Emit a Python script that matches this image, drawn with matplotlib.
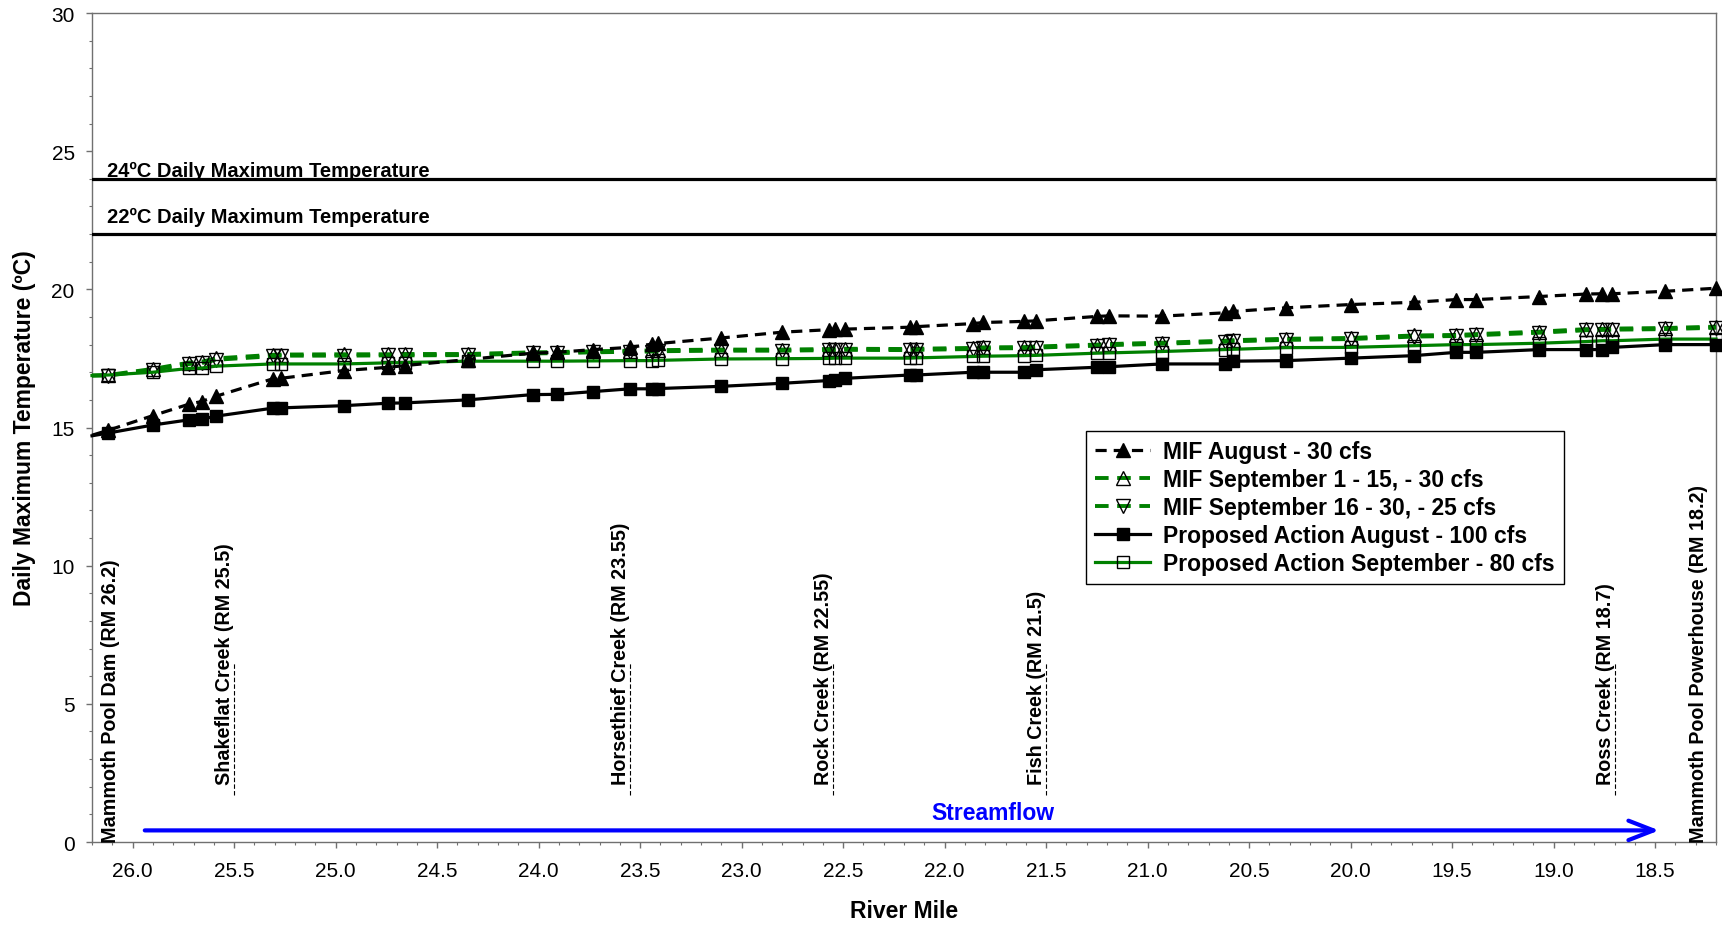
import numpy as np
import matplotlib
matplotlib.use("Agg")
import matplotlib.pyplot as plt
from matplotlib.ticker import MultipleLocator, FormatStrFormatter

plt.rcParams['font.family'] = ['Liberation Sans', 'DejaVu Sans']

# Datos (milla del rio vs temperatura maxima diaria)
river_mile = [26.2, 26.12, 25.9, 25.72, 25.66, 25.59, 25.31, 25.27, 24.96, 24.74,
              24.66, 24.35, 24.03, 23.91, 23.73, 23.55, 23.44, 23.41, 23.1, 22.8,
              22.57, 22.54, 22.49, 22.17, 22.14, 21.86, 21.81, 21.61, 21.55, 21.25,
              21.19, 20.93, 20.62, 20.58, 20.32, 20.0, 19.69, 19.48, 19.38, 19.07,
              18.84, 18.76, 18.71, 18.45, 18.2]

mif_aug = [14.72, 14.9, 15.43, 15.85, 15.94, 16.13, 16.76, 16.78, 17.06, 17.18,
           17.24, 17.46, 17.69, 17.72, 17.82, 17.9, 18.02, 18.04, 18.24, 18.45,
           18.54, 18.55, 18.56, 18.63, 18.65, 18.76, 18.8, 18.84, 18.86, 19.02,
           19.04, 19.03, 19.15, 19.2, 19.33, 19.45, 19.53, 19.63, 19.63, 19.74,
           19.83, 19.84, 19.84, 19.93, 20.04]

mif_sep_1_15 = [16.88, 16.9, 17.12, 17.35, 17.38, 17.5, 17.63, 17.64, 17.65, 17.65,
                17.66, 17.66, 17.72, 17.73, 17.76, 17.78, 17.79, 17.8, 17.82, 17.82,
                17.84, 17.84, 17.85, 17.84, 17.85, 17.88, 17.9, 17.91, 17.93, 18.0,
                18.02, 18.07, 18.14, 18.16, 18.21, 18.24, 18.33, 18.35, 18.38, 18.47,
                18.56, 18.57, 18.58, 18.6, 18.65]

mif_sep_16_30 = [16.88, 16.88, 17.08, 17.3, 17.33, 17.45, 17.58, 17.6, 17.6, 17.61,
                 17.61, 17.62, 17.68, 17.69, 17.72, 17.74, 17.75, 17.76, 17.78, 17.78,
                 17.8, 17.8, 17.81, 17.8, 17.81, 17.84, 17.86, 17.87, 17.89, 17.96,
                 17.98, 18.03, 18.1, 18.12, 18.17, 18.2, 18.29, 18.31, 18.34, 18.43,
                 18.52, 18.53, 18.54, 18.56, 18.61]

prop_aug = [14.7, 14.8, 15.09, 15.28, 15.3, 15.41, 15.7, 15.71, 15.79, 15.88,
            15.89, 16.0, 16.19, 16.2, 16.3, 16.4, 16.4, 16.41, 16.49, 16.6,
            16.7, 16.72, 16.78, 16.9, 16.9, 17.0, 17.0, 17.0, 17.09, 17.18,
            17.2, 17.3, 17.3, 17.4, 17.42, 17.51, 17.6, 17.72, 17.72, 17.82,
            17.82, 17.82, 17.9, 18.0, 18.0]

prop_sep = [16.88, 16.9, 17.0, 17.14, 17.15, 17.22, 17.3, 17.3, 17.3, 17.34,
            17.35, 17.4, 17.4, 17.4, 17.41, 17.42, 17.42, 17.43, 17.48, 17.49,
            17.5, 17.51, 17.51, 17.51, 17.52, 17.57, 17.58, 17.6, 17.61, 17.69,
            17.7, 17.75, 17.82, 17.83, 17.89, 17.9, 17.96, 18.0, 18.0, 18.05,
            18.11, 18.14, 18.14, 18.2, 18.2]

# Sitios de referencia
site_names = ["Mammoth Pool Dam (RM 26.2)", "Shakeflat Creek (RM 25.5)",
              "Horsethief Creek (RM 23.55)", "Rock Creek (RM 22.55)",
              "Fish Creek (RM 21.5)", "Ross Creek (RM 18.7)",
              "Mammoth Pool Powerhouse (RM 18.2)"]
site_rm = [26.2, 25.5, 23.55, 22.55, 21.5, 18.7, 18.2]

# Limites de temperatura
limit_temps = [24, 22]
limit_labels = ["24ºC Daily Maximum Temperature", "22ºC Daily Maximum Temperature"]

fig = plt.figure(figsize=(17.22, 9.29), dpi=100)
ax = fig.add_axes([0.05343, 0.09257, 0.9431, 0.89236])

green = '#008000'
dash = (3.5, 2.2)
mk = slice(1, None)  # el primer punto queda en el borde, sin marcador

ax.plot(river_mile, mif_aug, color='black', lw=2.3, dashes=dash, marker='^', ms=9.5,
        mfc='black', mec='black', markevery=mk, clip_on=False, zorder=5,
        label="MIF August - 30 cfs")
ax.plot(river_mile, mif_sep_1_15, color=green, lw=2.8, dashes=dash, marker='^', ms=9.5,
        mfc='none', mec='black', mew=1.0, markevery=mk, clip_on=False, zorder=4,
        label="MIF September 1 - 15, - 30 cfs")
ax.plot(river_mile, mif_sep_16_30, color=green, lw=2.8, dashes=dash, marker='v', ms=9.5,
        mfc='none', mec='black', mew=1.0, markevery=mk, clip_on=False, zorder=4,
        label="MIF September 16 - 30, - 25 cfs")
ax.plot(river_mile, prop_aug, color='black', lw=2.3, marker='s', ms=9,
        mfc='black', mec='black', markevery=mk, clip_on=False, zorder=5,
        label="Proposed Action August - 100 cfs")
ax.plot(river_mile, prop_sep, color=green, lw=2.3, marker='s', ms=9,
        mfc='none', mec='black', mew=1.0, markevery=mk, clip_on=False, zorder=4,
        label="Proposed Action September - 80 cfs")

# Lineas horizontales de limite
for t, lab, dy in zip(limit_temps, limit_labels, [0.11, 0.45]):
    ax.axhline(t, color='black', lw=2.3, zorder=3)
    ax.text(0.009, t + dy, lab, transform=ax.get_yaxis_transform(),
            fontsize=14.5, fontweight='bold', va='baseline', ha='left')

# Etiquetas de sitios (texto vertical + linea punteada)
for name, rm in zip(site_names, site_rm):
    if name.startswith("Mammoth Pool Dam"):
        ax.annotate(name, xy=(rm, 0), xytext=(6.3, 0), textcoords='offset points',
                    rotation=90, rotation_mode='anchor', ha='left', va='top',
                    fontsize=14.2, fontweight='bold')
    elif name.startswith("Mammoth Pool Powerhouse"):
        ax.annotate(name, xy=(rm, 0), xytext=(-5.5, 0), textcoords='offset points',
                    rotation=90, rotation_mode='anchor', ha='left', va='bottom',
                    fontsize=14.2, fontweight='bold')
    else:
        ax.plot([rm, rm], [1.7, 6.5], color='black', lw=0.8, dashes=(4, 2))
        ax.annotate(name, xy=(rm, 2.1), rotation=90, rotation_mode='anchor',
                    ha='left', va='bottom', fontsize=14.2, fontweight='bold')

# Flecha de caudal
ax.annotate('', xy=(18.48, 0.42), xytext=(25.94, 0.42),
            arrowprops=dict(arrowstyle='->, head_length=1.8, head_width=0.7',
                            color='blue', lw=3, shrinkA=0, shrinkB=0))
ax.text(21.76, 1.05, "Streamflow", color='blue', fontsize=16.5, fontweight='bold',
        ha='center', va='center')

# Ejes
ax.set_xlim(26.2, 18.2)
ax.set_ylim(0, 30)
ax.xaxis.set_major_locator(MultipleLocator(0.5))
ax.xaxis.set_minor_locator(MultipleLocator(0.1))
ax.xaxis.set_major_formatter(FormatStrFormatter('%.1f'))
ax.yaxis.set_major_locator(MultipleLocator(5))
ax.yaxis.set_minor_locator(MultipleLocator(1))
ax.tick_params(axis='both', which='major', direction='out', length=4.5, width=1,
               color='#707070', labelsize=15)
ax.tick_params(axis='both', which='minor', direction='out', length=2.5, width=0.8,
               color='#707070')
ax.tick_params(axis='x', which='major', pad=9)
ax.tick_params(axis='y', which='major', pad=8)
for s in ax.spines.values():
    s.set_color('#707070')
    s.set_linewidth(1.0)

ax.set_xlabel("River Mile", fontsize=16.5, fontweight='bold', labelpad=14)
ax.set_ylabel("Daily Maximum Temperature (ºC)", fontsize=16.5, fontweight='bold',
              labelpad=11)

leg = ax.legend(loc='upper left', bbox_to_anchor=(0.605, 0.510),
                prop={'weight': 'bold', 'size': 16.5}, frameon=True, fancybox=False,
                edgecolor='black', framealpha=1, borderpad=0.4, labelspacing=0.22,
                handlelength=2.4, handletextpad=0.55, numpoints=1)
leg.get_frame().set_linewidth(1.0)

fig.savefig("out.png", dpi=100)
